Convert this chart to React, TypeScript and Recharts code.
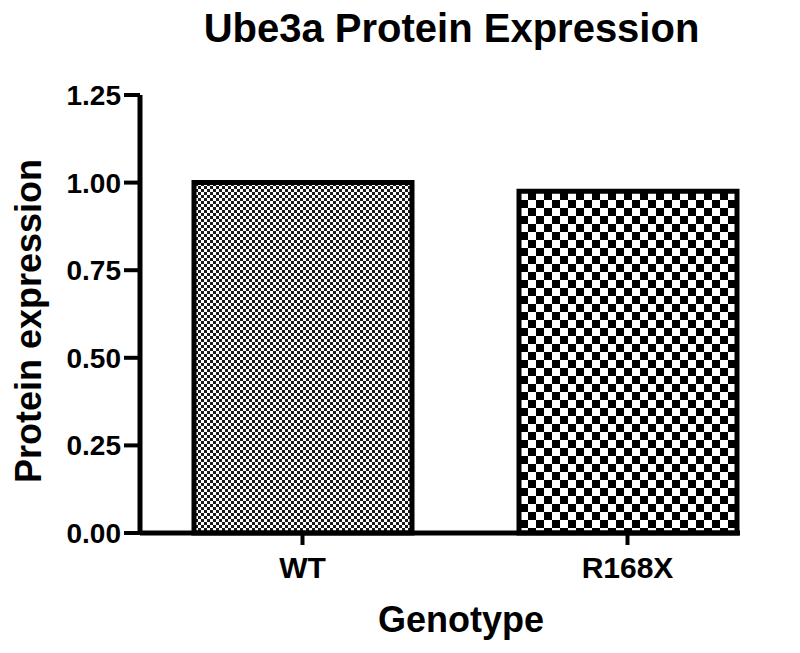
import { BarChart, Bar, XAxis, YAxis, Cell } from "recharts";

const genotypes = ["WT", "R168X"];
const expression = [1.0, 0.975];
const yTicks = [0, 0.25, 0.5, 0.75, 1.0, 1.25];
const patterns = ["url(#checkFine)", "url(#checkCoarse)"];

const chartData = genotypes.map((g, i) => ({ genotype: g, value: expression[i] }));

const FONT = "'Liberation Sans', Arial, sans-serif";

function YLabel({ viewBox }: any) {
  const cy = viewBox.y + viewBox.height / 2 + 7;
  return (
    <text
      x={41}
      y={cy}
      transform={`rotate(-90, 41, ${cy})`}
      textAnchor="middle"
      fontFamily={FONT}
      fontWeight="bold"
      fontSize={36}
      fill="#000"
    >
      Protein expression
    </text>
  );
}

function XLabel({ viewBox }: any) {
  return (
    <text
      x={viewBox.x + viewBox.width / 2 + 21}
      y={632}
      textAnchor="middle"
      fontFamily={FONT}
      fontWeight="bold"
      fontSize={36}
      fill="#000"
    >
      Genotype
    </text>
  );
}

export default function App() {
  return (
    <div style={{ position: "absolute", left: 0, top: 0, width: 800, height: 653, background: "#fff" }}>
      <svg width={0} height={0} style={{ position: "absolute" }}>
        <defs>
          <pattern id="checkFine" width={6} height={6} patternUnits="userSpaceOnUse">
            <rect width={6} height={6} fill="#fff" />
            <rect width={3} height={3} fill="#1a1a1a" />
            <rect x={3} y={3} width={3} height={3} fill="#1a1a1a" />
          </pattern>
          <pattern id="checkCoarse" width={16} height={16} patternUnits="userSpaceOnUse">
            <rect width={16} height={16} fill="#fff" />
            <rect width={8} height={8} fill="#000" />
            <rect x={8} y={8} width={8} height={8} fill="#000" />
          </pattern>
        </defs>
      </svg>

      <div
        style={{
          position: "absolute",
          left: 0,
          top: 0,
          width: 903,
          textAlign: "center",
          fontFamily: FONT,
          fontWeight: "bold",
          fontSize: 40,
          lineHeight: "56px",
          color: "#000",
        }}
      >
        Ube3a Protein Expression
      </div>

      <BarChart
        width={800}
        height={653}
        data={chartData}
        margin={{ top: 95, right: 60, bottom: 60, left: 20 }}
        style={{ position: "absolute", left: 0, top: 0 }}
      >
        <XAxis
          dataKey="genotype"
          padding={{ left: 0, right: -50 }}
          axisLine={{ stroke: "#000", strokeWidth: 5 }}
          tickLine={{ stroke: "#000", strokeWidth: 4 }}
          tickSize={12}
          tickMargin={12}
          tick={{ fill: "#000", fontSize: 30, fontWeight: "bold", fontFamily: FONT }}
          height={60}
          label={<XLabel />}
        />
        <YAxis
          domain={[0, 1.25]}
          ticks={yTicks}
          tickFormatter={(v) => Number(v).toFixed(2)}
          axisLine={{ stroke: "#000", strokeWidth: 5 }}
          tickLine={{ stroke: "#000", strokeWidth: 4 }}
          tickSize={16}
          tickMargin={3}
          tick={{ fill: "#000", fontSize: 28, fontWeight: "bold", fontFamily: FONT }}
          width={120}
          label={<YLabel />}
        />
        <Bar dataKey="value" barSize={218} stroke="#000" strokeWidth={5} isAnimationActive={false}>
          {chartData.map((d, i) => (
            <Cell key={d.genotype} fill={patterns[i]} />
          ))}
        </Bar>
      </BarChart>
    </div>
  );
}
